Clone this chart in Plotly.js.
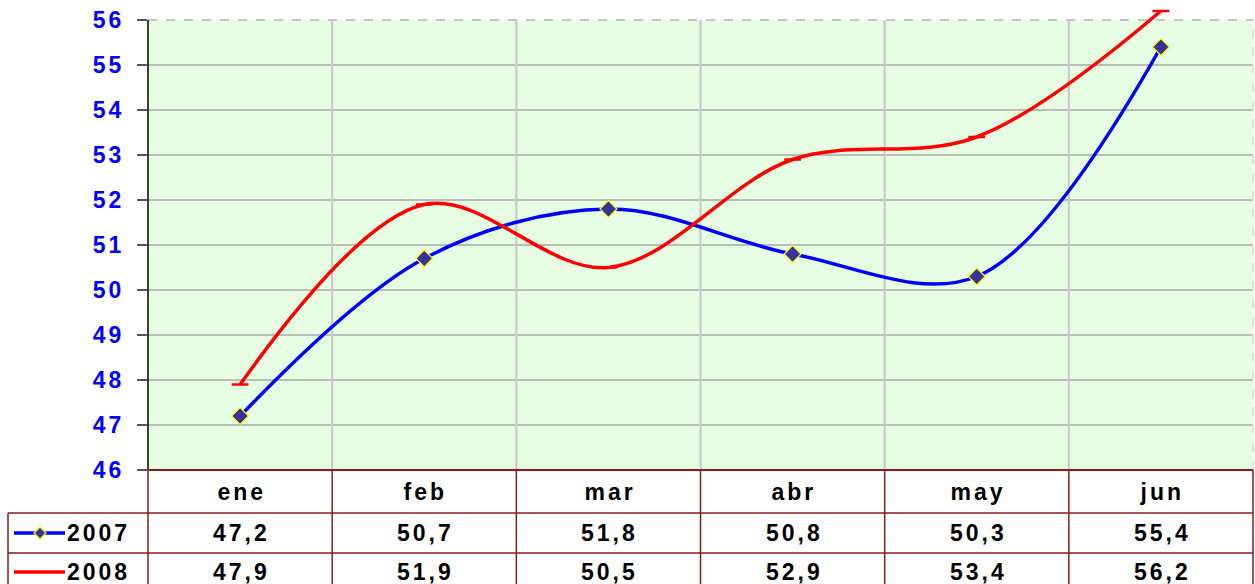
<!DOCTYPE html>
<html>
<head>
<meta charset="utf-8">
<script src="https://cdn.plot.ly/plotly-3.0.1.min.js"></script>
<style>
html,body{margin:0;padding:0;background:#fff;}
#chart{width:1255px;height:584px;}
.main-svg .annotation-text, .main-svg .ytick text{letter-spacing:3px;}
</style>
</head>
<body>
<div id="chart"></div>
<script>
// ---- data ----
var months = ['ene', 'feb', 'mar', 'abr', 'may', 'jun'];
var values2007 = [47.2, 50.7, 51.8, 50.8, 50.3, 55.4];
var values2008 = [47.9, 51.9, 50.5, 52.9, 53.4, 56.2];
var seriesNames = ['2007', '2008'];
var yTicks = [46, 47, 48, 49, 50, 51, 52, 53, 54, 55, 56];

// ---- layout helpers (pixel geometry) ----
var W = 1255, H = 584;
var mL = 148, mR = 2, mT = 9, mB = 114;
var plotW = W - mL - mR, plotH = H - mT - mB;
function px2paperX(px) { return (px - mL) / plotW; }
function px2paperY(py) { return (H - mB - py) / plotH; }

var tableColor = '#8b1a1a';
var fontFam = '"Liberation Sans", Arial, sans-serif';
var yMin = yTicks[0], yMax = yTicks[yTicks.length - 1];

var fmt = function (v) { return v.toFixed(1).replace('.', ','); };

var traces = [
  {
    x: months, y: values2007, name: seriesNames[0], type: 'scatter', mode: 'lines+markers',
    line: { color: '#0000ff', width: 3.5, shape: 'spline', smoothing: 1 },
    marker: { symbol: 'diamond', size: 13, color: '#333399', line: { color: '#ffff00', width: 1.2 } },
    cliponaxis: false, showlegend: false
  },
  {
    x: months, y: values2008, name: seriesNames[1], type: 'scatter', mode: 'lines+markers',
    line: { color: '#ff0000', width: 3.5, shape: 'spline', smoothing: 1 },
    marker: { symbol: 'line-ew', size: 12, color: '#ff0000', line: { color: '#ff0000', width: 2.5 } },
    cliponaxis: false, showlegend: false
  }
];

var shapes = [];
// green plot background
shapes.push({ type: 'rect', xref: 'paper', yref: 'y', x0: 0, x1: 1, y0: yMin, y1: yMax,
  fillcolor: '#e6fde4', line: { width: 0 }, layer: 'below' });
// horizontal grid lines
yTicks.forEach(function (v, i) {
  if (i === 0) return;
  var top = (i === yTicks.length - 1);
  shapes.push({ type: 'line', xref: 'paper', yref: 'y', x0: 0, x1: 1, y0: v, y1: v,
    line: { color: top ? '#c4c4c4' : '#a8a8a8', width: top ? 2 : 1.5, dash: top ? 'dash' : 'solid' }, layer: 'below' });
});
// vertical grid lines at category boundaries
var n = months.length;
for (var i = 1; i < n; i++) {
  shapes.push({ type: 'line', xref: 'paper', yref: 'y', x0: i / n, x1: i / n, y0: yMin, y1: yMax,
    line: { color: '#c8c8c8', width: 2 }, layer: 'below' });
}
shapes.push({ type: 'line', xref: 'paper', yref: 'y', x0: 1, x1: 1, y0: yMin, y1: yMax,
  line: { color: '#d0ecd0', width: 2, dash: 'dash' }, layer: 'below' });
// left axis line
shapes.push({ type: 'line', xref: 'paper', yref: 'y', x0: 0, x1: 0, y0: yMin, y1: yMax,
  line: { color: '#000000', width: 1.5 } });

// table
var row1Top = px2paperY(513), row2Top = px2paperY(553), tableBottom = px2paperY(600);
var legendLeft = px2paperX(8);
shapes.push({ type: 'line', xref: 'paper', yref: 'paper', x0: 0, x1: 1, y0: 0, y1: 0, line: { color: tableColor, width: 2 } });
shapes.push({ type: 'line', xref: 'paper', yref: 'paper', x0: legendLeft, x1: 1, y0: row1Top, y1: row1Top, line: { color: tableColor, width: 1.5 } });
shapes.push({ type: 'line', xref: 'paper', yref: 'paper', x0: legendLeft, x1: 1, y0: row2Top, y1: row2Top, line: { color: tableColor, width: 1.5 } });
for (var j = 0; j <= n; j++) {
  shapes.push({ type: 'line', xref: 'paper', yref: 'paper', x0: j / n, x1: j / n, y0: 0, y1: tableBottom, line: { color: tableColor, width: 1.5 } });
}
shapes.push({ type: 'line', xref: 'paper', yref: 'paper', x0: legendLeft, x1: legendLeft, y0: row1Top, y1: tableBottom, line: { color: tableColor, width: 1.5 } });

var headerY = px2paperY(492), row1Y = px2paperY(533), row2Y = px2paperY(572);
// legend keys
shapes.push({ type: 'line', xref: 'paper', yref: 'paper', x0: px2paperX(14), x1: px2paperX(65), y0: row1Y, y1: row1Y, line: { color: '#0000ff', width: 3.5 } });
shapes.push({ type: 'path', xref: 'paper', yref: 'paper', xsizemode: 'pixel', ysizemode: 'pixel',
  xanchor: px2paperX(40), yanchor: row1Y, path: 'M 0 6 L 6 0 L 0 -6 L -6 0 Z',
  fillcolor: '#333399', line: { color: '#ffff00', width: 1.2 } });
shapes.push({ type: 'line', xref: 'paper', yref: 'paper', x0: px2paperX(14), x1: px2paperX(65), y0: row2Y, y1: row2Y, line: { color: '#ff0000', width: 3.5 } });

var annFont = { family: fontFam, size: 23, color: '#000000', weight: 'bold' };
var annotations = [];
months.forEach(function (m, k) {
  annotations.push({ x: m, xref: 'x', y: headerY, yref: 'paper', text: m, showarrow: false, font: annFont, xanchor: 'center', yanchor: 'middle', xshift: 1.5 });
  annotations.push({ x: m, xref: 'x', y: row1Y, yref: 'paper', text: fmt(values2007[k]), showarrow: false, font: annFont, xanchor: 'center', yanchor: 'middle', xshift: 1.5 });
  annotations.push({ x: m, xref: 'x', y: row2Y, yref: 'paper', text: fmt(values2008[k]), showarrow: false, font: annFont, xanchor: 'center', yanchor: 'middle', xshift: 1.5 });
});
annotations.push({ x: px2paperX(71), xref: 'paper', y: row1Y, yref: 'paper', text: seriesNames[0], showarrow: false, font: annFont, xanchor: 'left', yanchor: 'middle' });
annotations.push({ x: px2paperX(71), xref: 'paper', y: row2Y, yref: 'paper', text: seriesNames[1], showarrow: false, font: annFont, xanchor: 'left', yanchor: 'middle' });

var layout = {
  width: W, height: H,
  margin: { l: mL, r: mR, t: mT, b: mB, pad: 0 },
  paper_bgcolor: '#ffffff', plot_bgcolor: 'rgba(0,0,0,0)',
  font: { family: fontFam },
  showlegend: false,
  xaxis: { type: 'category', range: [-0.5, n - 0.5], showgrid: false, zeroline: false, showline: false,
    showticklabels: false, ticks: '', fixedrange: true },
  yaxis: { range: [yMin, yMin + plotH / 45], tickvals: yTicks, ticktext: yTicks.map(String),
    showgrid: false, zeroline: false, showline: false, ticks: 'outside', ticklen: 10, tickwidth: 1.5, tickcolor: '#555555',
    tickfont: { family: fontFam, size: 23, color: '#0000ff', weight: 'bold' }, ticklabelstandoff: 8 },
  shapes: shapes,
  annotations: annotations
};

Plotly.newPlot('chart', traces, layout, { staticPlot: true, displayModeBar: false });
</script>
</body>
</html>
